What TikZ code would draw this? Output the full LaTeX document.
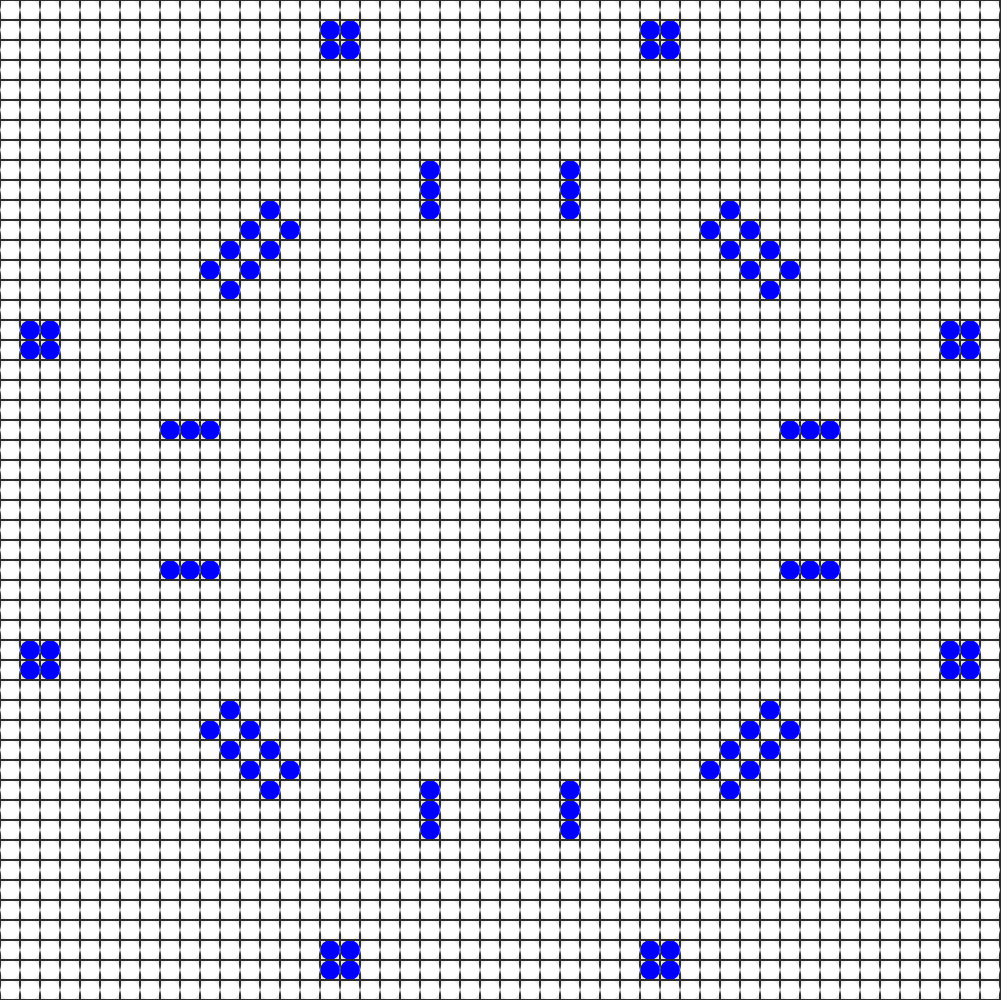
\documentclass[tikz,border=0pt]{standalone}
\usepackage{tikz}
\definecolor{bggray}{RGB}{232,232,232}
\definecolor{gridgray}{RGB}{45,45,45}

\begin{document}
\begin{tikzpicture}[x=0.5cm,y=-0.5cm]
  \fill[bggray] (0,0) rectangle (50,50);
  \useasboundingbox (0,0) rectangle (50,50);

  % vertical grid lines
  \foreach \i in {0,...,50}
    \draw[gridgray, line width=0.75pt] (\i,0) -- (\i,50);

  % dead cells
  \foreach \c in {0,...,49}
    \foreach \r in {0,...,49}
      \fill[white] (\c+0.5,\r+0.5) circle (0.49);

  % live cells (one quadrant, mirrored)
  \foreach \c/\r in {16/1,17/1,16/2,17/2,
                     1/16,2/16,1/17,2/17,
                     21/8,21/9,21/10,
                     8/21,9/21,10/21,
                     13/10,12/11,14/11,11/12,13/12,10/13,12/13,11/14}{
    \fill[blue] (\c+0.5,\r+0.5) circle (0.49);
    \fill[blue] (49.5-\c,\r+0.5) circle (0.49);
    \fill[blue] (\c+0.5,49.5-\r) circle (0.49);
    \fill[blue] (49.5-\c,49.5-\r) circle (0.49);
  }

  % horizontal grid lines
  \foreach \j in {0,...,50}
    \draw[gridgray, line width=0.75pt] (0,\j) -- (50,\j);
\end{tikzpicture}
\end{document}
